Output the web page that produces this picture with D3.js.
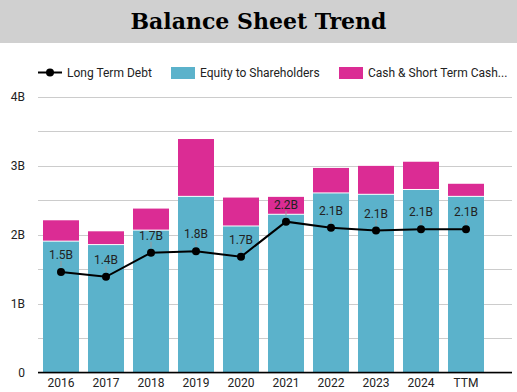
<!DOCTYPE html>
<html>
<head>
<meta charset="utf-8">
<script src="https://cdn.jsdelivr.net/npm/d3@7"></script>
<style>
  body { margin: 0; background: #fff; }
  svg { display: block; font-family: Roboto, "Noto Sans", sans-serif; }
</style>
</head>
<body>
<div id="chart"></div>
<script>
// values in billions
var years = ["2016", "2017", "2018", "2019", "2020", "2021", "2022", "2023", "2024", "TTM"];
var equity = [1.90, 1.85, 2.06, 2.55, 2.12, 2.29, 2.60, 2.58, 2.65, 2.55];
var cash = [0.31, 0.20, 0.32, 0.84, 0.42, 0.26, 0.37, 0.42, 0.41, 0.19];
var debt = [1.46, 1.39, 1.74, 1.76, 1.68, 2.19, 2.10, 2.06, 2.08, 2.08];
var debtLabels = ["1.5B", "1.4B", "1.7B", "1.8B", "1.7B", "2.2B", "2.1B", "2.1B", "2.1B", "2.1B"];
var yTicks = [0, 1, 2, 3, 4];
var yMinor = [0.5, 1.5, 2.5, 3.5];

var W = 517, H = 392;
var blue = "#5bb2cb", pink = "#db2c94";

var svg = d3.select("#chart").append("svg")
    .attr("width", W)
    .attr("height", H);

// title bar
svg.append("rect")
    .attr("x", 0).attr("y", 0)
    .attr("width", W).attr("height", 43)
    .attr("fill", "#d0d0d0");
svg.append("text")
    .attr("x", W / 2).attr("y", 29)
    .attr("text-anchor", "middle")
    .style("font-family", "'DejaVu Serif', serif")
    .style("font-weight", "bold")
    .style("font-size", "22px")
    .attr("fill", "#000")
    .text("Balance Sheet Trend");

var x = d3.scaleBand()
    .domain(years)
    .range([38.5, 488.5])
    .paddingInner(0.2)
    .paddingOuter(0.1);

var y = d3.scaleLinear()
    .domain([0, 4])
    .range([372.5, 97]);

var left = 38, right = 512;

// grid
svg.append("g").selectAll("line")
    .data(yTicks.concat(yMinor))
    .join("line")
    .attr("x1", left).attr("x2", right)
    .attr("y1", function (d) { return Math.round(y(d)) + 0.5; })
    .attr("y2", function (d) { return Math.round(y(d)) + 0.5; })
    .attr("stroke", "#cccccc")
    .attr("stroke-width", 1);

// y labels
svg.append("g").selectAll("text")
    .data(yTicks)
    .join("text")
    .attr("x", 25)
    .attr("y", function (d) { return y(d) + 4; })
    .attr("text-anchor", "end")
    .style("font-size", "12px")
    .attr("fill", "#222")
    .text(function (d) { return d === 0 ? "0" : d + "B"; });

// bars
var bars = svg.append("g");
bars.selectAll(".eq")
    .data(years)
    .join("rect")
    .attr("class", "eq")
    .attr("x", function (d) { return x(d); })
    .attr("width", x.bandwidth())
    .attr("y", function (d, i) { return y(equity[i]); })
    .attr("height", function (d, i) { return y(0) - y(equity[i]); })
    .attr("fill", blue);
bars.selectAll(".cash")
    .data(years)
    .join("rect")
    .attr("class", "cash")
    .attr("x", function (d) { return x(d); })
    .attr("width", x.bandwidth())
    .attr("y", function (d, i) { return y(equity[i] + cash[i]); })
    .attr("height", function (d, i) { return y(equity[i]) - y(equity[i] + cash[i]) - 1; })
    .attr("fill", pink);

// axis line
svg.append("line")
    .attr("x1", left).attr("x2", right)
    .attr("y1", 372.5).attr("y2", 372.5)
    .attr("stroke", "#000")
    .attr("stroke-width", 1.5);

// x labels
svg.append("g").selectAll("text")
    .data(years)
    .join("text")
    .attr("x", function (d) { return x(d) + x.bandwidth() / 2; })
    .attr("y", 387)
    .attr("text-anchor", "middle")
    .style("font-size", "12px")
    .attr("fill", "#222")
    .text(function (d) { return d; });

// debt line
var cx = function (d, i) { return x(years[i]) + x.bandwidth() / 2; };
var line = d3.line()
    .x(cx)
    .y(function (d) { return y(d); });

svg.append("path")
    .datum(debt)
    .attr("d", line)
    .attr("fill", "none")
    .attr("stroke", "#000")
    .attr("stroke-width", 2);

svg.append("g").selectAll("line")
    .data(debt)
    .join("line")
    .attr("x1", cx).attr("x2", cx)
    .attr("y1", function (d) { return y(d) - 5; })
    .attr("y2", function (d) { return y(d) - 11; })
    .attr("stroke", "#999")
    .attr("stroke-width", 1);

svg.append("g").selectAll("circle")
    .data(debt)
    .join("circle")
    .attr("cx", cx)
    .attr("cy", function (d) { return y(d); })
    .attr("r", 4)
    .attr("fill", "#000");

svg.append("g").selectAll("text")
    .data(debt)
    .join("text")
    .attr("x", cx)
    .attr("y", function (d) { return y(d) - 13; })
    .attr("text-anchor", "middle")
    .style("font-size", "12px")
    .attr("fill", "#222")
    .text(function (d, i) { return debtLabels[i]; });

// legend
var lg = svg.append("g");
lg.append("line")
    .attr("x1", 38).attr("x2", 62)
    .attr("y1", 72.5).attr("y2", 72.5)
    .attr("stroke", "#000").attr("stroke-width", 2);
lg.append("circle")
    .attr("cx", 50).attr("cy", 72.5).attr("r", 4).attr("fill", "#000");
lg.append("text")
    .attr("x", 67).attr("y", 77)
    .style("font-size", "12px").attr("fill", "#222")
    .text("Long Term Debt");
lg.append("rect")
    .attr("x", 171).attr("y", 67).attr("width", 24).attr("height", 12)
    .attr("fill", blue);
lg.append("text")
    .attr("x", 200).attr("y", 77)
    .style("font-size", "12px").attr("fill", "#222")
    .text("Equity to Shareholders");
lg.append("rect")
    .attr("x", 339).attr("y", 67).attr("width", 24).attr("height", 12)
    .attr("fill", pink);
lg.append("text")
    .attr("x", 368).attr("y", 77)
    .style("font-size", "12px").attr("fill", "#222")
    .text("Cash & Short Term Cash...");
</script>
</body>
</html>
